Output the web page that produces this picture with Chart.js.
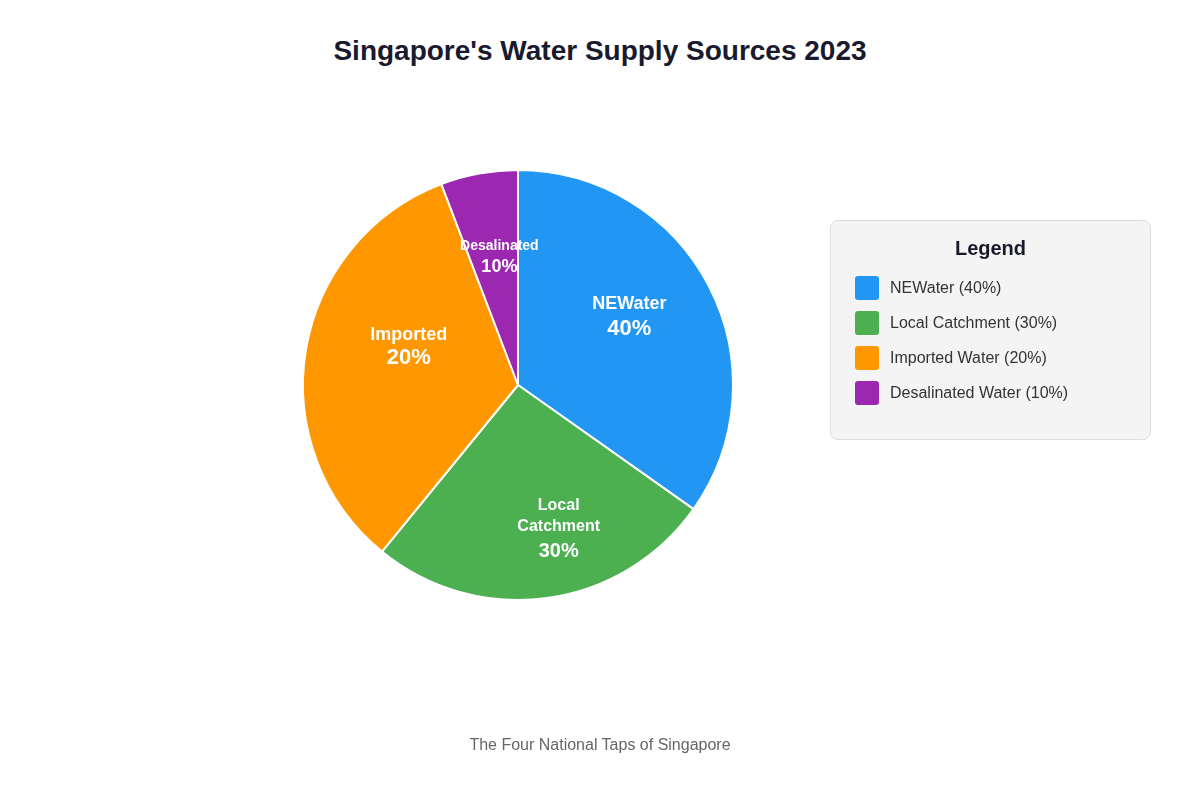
<!DOCTYPE html>
<html>
<head>
<meta charset="utf-8">
<script src="https://cdn.jsdelivr.net/npm/chart.js@4.4.1/dist/chart.umd.min.js"></script>
<style>
  html, body { margin: 0; padding: 0; background: #ffffff; }
  body { width: 1200px; height: 800px; position: relative; overflow: hidden; font-family: "Liberation Sans", Arial, Helvetica, sans-serif; }
  #title { position: absolute; left: 0; top: 35px; width: 1200px; text-align: center; font-size: 28px; font-weight: bold; color: #1a1a2e; }
  #footer { position: absolute; left: 0; top: 736px; width: 1200px; text-align: center; font-size: 16px; color: #666666; }
  #chartWrap { position: absolute; left: 0; top: 0; width: 1200px; height: 800px; }
  #legend { position: absolute; left: 830px; top: 220px; width: 321px; height: 220px; box-sizing: border-box; background: #f4f4f4; border: 1px solid #dddddd; border-radius: 8px; }
  #legend h3 { margin: 0; position: absolute; top: 16px; left: 0; width: 100%; text-align: center; font-size: 20px; font-weight: bold; color: #1a1a2e; }
  .item { position: absolute; left: 24px; height: 24px; display: flex; align-items: center; font-size: 16px; color: #333333; }
  .sw { width: 24px; height: 24px; border-radius: 3px; margin-right: 11px; }
</style>
</head>
<body>
<div id="title">Singapore's Water Supply Sources 2023</div>
<div id="chartWrap"><canvas id="c" width="1200" height="800"></canvas></div>
<div id="legend"><h3>Legend</h3></div>
<div id="footer">The Four National Taps of Singapore</div>
<script>
// ---- data ----
const categories = ["NEWater", "Local Catchment", "Imported Water", "Desalinated Water"];
const percentLabels = ["40%", "30%", "20%", "10%"];
const sliceNameLines = [["NEWater"], ["Local", "Catchment"], ["Imported"], ["Desalinated"]];
// slice shares as drawn in the picture (angle of each wedge, in % of the full turn)
const sliceShares = [34.8, 26.1, 33.3, 5.8];

// ---- styles ----
const colors = ["#2196F3", "#4CAF50", "#FF9800", "#9C27B0"];
const labelStyle = [
  { nameSize: 18, pctSize: 22, frac: 0.60, shift: -3, gap: 24, extra: 1, dy: -4 },
  { nameSize: 16, pctSize: 20, frac: 0.72, shift: -7.5, gap: 21, extra: 4, dy: -8 },
  { nameSize: 18, pctSize: 22, frac: 0.535, shift: 9, gap: 23, extra: 0, dy: -3 },
  { nameSize: 14, pctSize: 18, frac: 0.59, shift: 2, gap: 21, extra: 0, dy: -3 }
];

// legend (HTML)
const legendEl = document.getElementById('legend');
categories.forEach((c, i) => {
  const d = document.createElement('div');
  d.className = 'item';
  d.style.top = (55 + i * 35) + 'px';
  d.innerHTML = '<span class="sw" style="background:' + colors[i] + '"></span><span>' + c + ' (' + percentLabels[i] + ')</span>';
  legendEl.appendChild(d);
});

const sliceLabels = {
  id: 'sliceLabels',
  afterDatasetsDraw(chart) {
    const ctx = chart.ctx;
    const meta = chart.getDatasetMeta(0);
    meta.data.forEach((arc, i) => {
      const p = arc.getProps(['x', 'y', 'startAngle', 'endAngle', 'outerRadius'], true);
      const st = labelStyle[i];
      const mid = (p.startAngle + p.endAngle) / 2 + st.shift * Math.PI / 180;
      const r = p.outerRadius * st.frac;
      const cx = p.x + Math.cos(mid) * r;
      const cy = p.y + Math.sin(mid) * r + st.dy;
      const lines = sliceNameLines[i].map(t => ({ t, size: st.nameSize }));
      lines.push({ t: percentLabels[i], size: st.pctSize });
      const total = (lines.length - 1) * st.gap;
      ctx.save();
      ctx.fillStyle = '#ffffff';
      ctx.textAlign = 'center';
      ctx.textBaseline = 'middle';
      lines.forEach((ln, k) => {
        ctx.font = 'bold ' + ln.size + 'px "Liberation Sans", Arial, sans-serif';
        const extra = (k === lines.length - 1) ? st.extra : 0;
        ctx.fillText(ln.t, cx, cy - total / 2 + k * st.gap + extra);
      });
      ctx.restore();
    });
  }
};

new Chart(document.getElementById('c'), {
  type: 'pie',
  data: {
    labels: categories,
    datasets: [{
      data: sliceShares,
      backgroundColor: colors,
      borderColor: '#ffffff',
      borderWidth: 2
    }]
  },
  options: {
    responsive: false,
    animation: false,
    radius: 215,
    layout: { padding: { left: 0, right: 164, top: 0, bottom: 30 } },
    plugins: {
      legend: { display: false },
      tooltip: { enabled: false },
      title: { display: false }
    }
  },
  plugins: [sliceLabels]
});
</script>
</body>
</html>
